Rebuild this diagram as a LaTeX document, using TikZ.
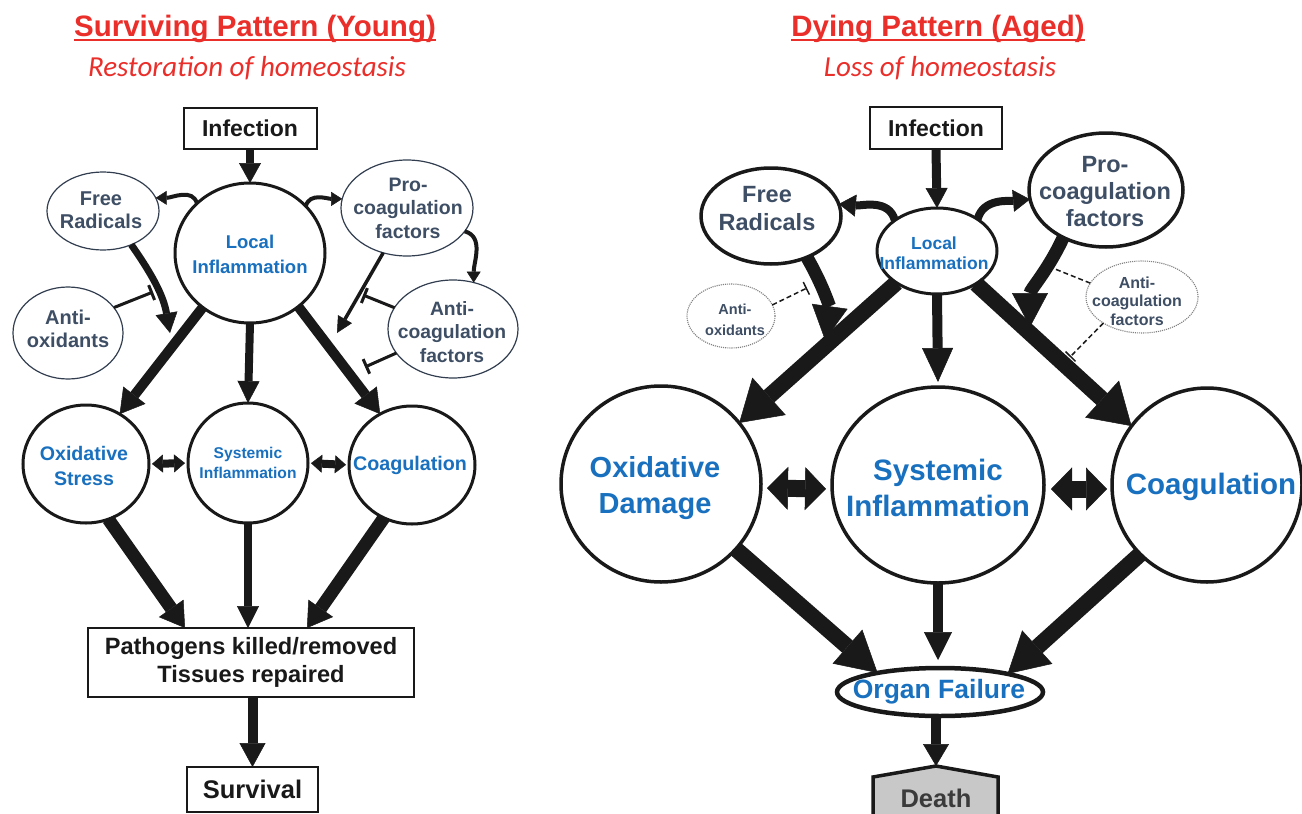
\documentclass[tikz,border=0pt]{standalone}
\usepackage{fontspec}
\setmainfont{Liberation Sans}
\newfontfamily\subfont{Carlito}
\usetikzlibrary{arrows.meta,shapes.geometric,calc}
\definecolor{tred}{RGB}{234,46,42}
\definecolor{tblue}{RGB}{24,112,190}
\definecolor{slate}{RGB}{62,78,100}
\definecolor{dgray}{RGB}{200,200,200}
\definecolor{ink}{RGB}{25,25,25}
\newcommand\myfs[2]{\fontsize{#1}{#2}\selectfont}
\begin{document}
\begin{tikzpicture}[x=1pt,y=1pt,
  lbl/.style={inner sep=0pt, outer sep=0pt, align=center, font=\bfseries},
  ell/.style={draw=ink, ellipse, inner sep=0pt, outer sep=0pt},
  bigc/.style={ell, line width=3pt},
  bigr/.style={ell, line width=3.5pt},
  thinc/.style={ell, draw=slate!80!black, line width=1.2pt},
  dotc/.style={ell, draw=gray, line width=1.1pt, densely dotted},
  boxn/.style={draw=ink, line width=2pt, rectangle, inner sep=0pt, outer sep=0pt, align=center, font=\bfseries, text=ink},
  blk/.style n args={3}{draw=ink, line width=#1, -{Triangle[length=#3,width=#2,line width=0.5pt]}},
  dblk/.style n args={3}{draw=ink, line width=#1, {Triangle[length=#3,width=#2,line width=0.5pt]}-{Triangle[length=#3,width=#2,line width=0.5pt]}},
  inh/.style={draw=ink, line width=3pt, -{Bar[width=16pt,line width=3pt]}},
  dinh/.style={draw=ink, line width=1.5pt, dash pattern=on 5pt off 3pt, -{Bar[width=14pt,line width=1.5pt]}},
]
\useasboundingbox (0,0) rectangle (1302,-814);
\fill[white] (0,0) rectangle (1302,-814);

% ---------- titles ----------
\node[lbl, text=tred, font=\bfseries\myfs{29.5}{32}, anchor=base] (t1) at (255,-36) {Surviving Pattern (Young)};
\draw[tred, line width=2.6pt] ([yshift=-4pt]t1.base west) -- ([yshift=-4pt]t1.base east);
\node[lbl, text=tred, font=\subfont\itshape\myfs{29}{32}, anchor=base] (s1) at (247,-76) {Restoration of homeostasis};
\node[lbl, text=tred, font=\bfseries\myfs{29.5}{32}, anchor=base] (t2) at (938,-36) {Dying Pattern (Aged)};
\draw[tred, line width=2.6pt] ([yshift=-4pt]t2.base west) -- ([yshift=-4pt]t2.base east);
\node[lbl, text=tred, font=\subfont\itshape\myfs{29}{32}, anchor=base] (s2) at (940,-76) {Loss of homeostasis};

% ---------- left diagram ----------
\node[boxn, minimum width=133pt, minimum height=41pt, font=\bfseries\myfs{23}{26}] (inf) at (250,-128) {Infection};
\node[bigc, minimum width=150pt, minimum height=140pt] (loc) at (250,-253) {};
\node[lbl, text=tblue, font=\bfseries\myfs{18.5}{25}] (locT) at (250,-254) {Local\\Inflammation};
\node[thinc, minimum width=112pt, minimum height=78pt] (fr) at (103,-211) {};
\node[lbl, text=slate, font=\bfseries\myfs{20}{23.5}] (frT) at (101,-210) {Free\\Radicals};
\node[thinc, minimum width=110pt, minimum height=92pt] (ao) at (68,-333) {};
\node[lbl, text=slate, font=\bfseries\myfs{20}{22.5}] (aoT) at (68,-329) {Anti-\\oxidants};
\node[thinc, minimum width=132pt, minimum height=96pt] (pro) at (407,-208) {};
\node[lbl, text=slate, font=\bfseries\myfs{19.5}{23.5}] (proT) at (408,-208) {Pro-\\coagulation\\factors};
\node[thinc, minimum width=130pt, minimum height=98pt] (ac) at (453,-329) {};
\node[lbl, text=slate, font=\bfseries\myfs{19.3}{23.5}] (acT) at (452,-332) {Anti-\\coagulation\\factors};
\node[bigc, minimum width=126pt, minimum height=118pt] (ox) at (86,-464) {};
\node[lbl, text=tblue, font=\bfseries\myfs{19.6}{25}] (oxT) at (84,-466) {Oxidative\\Stress};
\node[bigc, minimum width=120pt, minimum height=120pt] (sys) at (248,-463) {};
\node[lbl, text=tblue, font=\bfseries\myfs{15.6}{20}] (sysT) at (248,-463) {Systemic\\Inflammation};
\node[bigc, minimum width=126pt, minimum height=118pt] (co) at (412,-465) {};
\node[lbl, text=tblue, font=\bfseries\myfs{19.7}{22}] (coT) at (410,-465) {Coagulation};
\node[boxn, minimum width=326pt, minimum height=69pt, font=\bfseries\myfs{23.6}{28.5}] (pth) at (251,-662.5) {Pathogens killed/removed\\Tissues repaired};
\node[boxn, minimum width=131pt, minimum height=45pt, font=\bfseries\myfs{25.5}{28}] (surv) at (252.5,-789.5) {Survival};

\coordinate (frtip) at (170,-333);
\coordinate (aobar) at (153,-292);
\coordinate (protip) at (337,-333);
\coordinate (acbar1) at (363,-295);
\coordinate (acbar2) at (365,-367);

\draw[blk={8pt}{22pt}{20pt}] (inf.south) -- (loc.north);
\draw[blk={4pt}{14pt}{11pt}] (loc.137) to[out=105,in=0] (fr.14);
\draw[blk={4pt}{14pt}{11pt}] (loc.40) to[out=75,in=180] (pro.172);
\draw[blk={4pt}{14pt}{11pt}] (pro.-22) to[out=-15,in=90] (ac.66);
\draw[blk={7pt}{22pt}{20pt}] (fr.-50) to[out=-55,in=100] (frtip);
\draw[inh] (ao.29) -- (aobar);
\draw[blk={3.5pt}{16pt}{16pt}] (pro.-118) -- (protip);
\draw[inh] (ac.160) -- (acbar1);
\draw[inh] (ac.-157) -- (acbar2);
\draw[blk={10pt}{28pt}{24pt}] (loc.-131) -- (ox.56);
\draw[blk={8pt}{22pt}{22pt}] (loc.south) -- (sys.north);
\draw[blk={10pt}{28pt}{24pt}] (loc.-48) -- (co.122);
\draw[dblk={8pt}{18pt}{11pt}, shorten <=3pt, shorten >=3pt] (ox.east) -- (sys.west);
\draw[dblk={8pt}{18pt}{11pt}, shorten <=3pt, shorten >=3pt] (sys.east) -- (co.west);
\draw[blk={13pt}{30pt}{24pt}] (ox.-68) -- ([xshift=-66pt]pth.north);
\draw[blk={8pt}{22pt}{22pt}] (sys.south) -- (sys.south |- pth.north);
\draw[blk={13pt}{30pt}{24pt}] (co.-118) -- ([xshift=56pt]pth.north);
\draw[blk={10pt}{26pt}{24pt}] (pth.south -| surv.north) -- (surv.north);

% ---------- right diagram ----------
\node[boxn, minimum width=132pt, minimum height=42pt, font=\bfseries\myfs{23}{26}] (inf2) at (936,-128) {Infection};
\node[bigc, minimum width=120pt, minimum height=86pt] (loc2) at (937,-251) {};
\node[lbl, text=tblue, font=\bfseries\myfs{17.5}{20.5}] (loc2T) at (934,-253) {Local\\Inflammation};
\node[bigr, minimum width=140pt, minimum height=96pt] (fr2) at (771,-216) {};
\node[lbl, text=slate, font=\bfseries\myfs{23.5}{28}] (fr2T) at (767,-209) {Free\\Radicals};
\node[bigr, minimum width=154pt, minimum height=114pt] (pro2) at (1106,-190) {};
\node[lbl, text=slate, font=\bfseries\myfs{23.5}{27}] (pro2T) at (1105,-192) {Pro-\\coagulation\\factors};
\node[dotc, minimum width=88pt, minimum height=64pt] (ao2) at (731,-316) {};
\node[lbl, text=slate, font=\bfseries\myfs{14.5}{21}] (ao2T) at (735,-320) {Anti-\\oxidants};
\node[dotc, minimum width=112pt, minimum height=72pt] (ac2) at (1142,-297) {};
\node[lbl, text=slate, font=\bfseries\myfs{16}{18.5}] (ac2T) at (1137,-301) {Anti-\\coagulation\\factors};
\node[bigr, minimum width=200pt, minimum height=196pt] (ox2) at (661,-484) {};
\node[lbl, text=tblue, font=\bfseries\myfs{29}{36}] (ox2T) at (655,-488) {Oxidative\\Damage};
\node[bigr, minimum width=212pt, minimum height=196pt] (sys2) at (938,-485) {};
\node[lbl, text=tblue, font=\bfseries\myfs{29.5}{36}] (sys2T) at (938,-488) {Systemic\\Inflammation};
\node[bigr, minimum width=190pt, minimum height=194pt] (co2) at (1207,-485) {};
\node[lbl, text=tblue, font=\bfseries\myfs{29.5}{32}] (co2T) at (1211,-487) {Coagulation};
\node[ell, line width=4.5pt, minimum width=206pt, minimum height=48pt] (of2) at (940,-692) {};
\node[lbl, text=tblue, font=\bfseries\myfs{26.5}{28}] (of2T) at (939,-692) {Organ Failure};

\coordinate (deathtop) at (936,-766);
\draw[ink, fill=dgray, line width=3.5pt, line join=miter] (873,-830) -- (873,-777) -- (deathtop) -- (998,-777) -- (998,-830);
\node[lbl, text=ink!85!white, font=\bfseries\myfs{25.5}{28}] (death) at (936,-798) {Death};

\coordinate (fr2tip) at (825,-340);
\coordinate (pro2tip) at (1030,-327);
\coordinate (ao2bar) at (807,-288);
\coordinate (ac2bar1) at (1050,-267);
\coordinate (ac2bar2) at (1070,-357);

\draw[blk={9pt}{22pt}{20pt}] (inf2.south) -- (loc2.north);
\draw[blk={8pt}{22pt}{17pt}] (loc2.144) to[out=105,in=-5] (fr2.10);
\draw[blk={8pt}{22pt}{17pt}] (loc2.38) to[out=75,in=185] (pro2.-173);
\draw[blk={13pt}{36pt}{34pt}] (fr2.-49) to[out=-60,in=82] (fr2tip);
\draw[blk={13pt}{36pt}{34pt}] (pro2.-132) to[out=-115,in=90] (pro2tip);
\draw[dinh] (ao2.15) -- (ao2bar);
\draw[dinh] (ac2.165) -- (ac2bar1);
\draw[dinh] (ac2.-146) -- (ac2bar2);
\draw[blk={16pt}{50pt}{40pt}] (loc2.-142) -- (ox2.38);
\draw[blk={10pt}{31pt}{34pt}] (loc2.south) -- ([yshift=5pt]sys2.north);
\draw[blk={16pt}{50pt}{40pt}] (loc2.-40) -- (co2.142);
\draw[dblk={17pt}{43pt}{21pt}, shorten <=6pt, shorten >=6pt] ([yshift=-4pt]ox2.east) -- ([yshift=-4pt]sys2.west);
\draw[dblk={17pt}{43pt}{21pt}, shorten <=7pt, shorten >=5pt] ([yshift=-4pt]sys2.east) -- ([yshift=-4pt]co2.west);
\draw[blk={16pt}{45pt}{40pt}] (ox2.-41) -- (of2.163);
\draw[blk={10pt}{28pt}{28pt}] (sys2.south) -- ([yshift=8pt]sys2.south |- of2.north);
\draw[blk={16pt}{45pt}{40pt}] (co2.-134) -- (of2.15);
\draw[blk={10pt}{26pt}{22pt}] (of2.south -| deathtop) -- (deathtop);
\end{tikzpicture}
\end{document}
